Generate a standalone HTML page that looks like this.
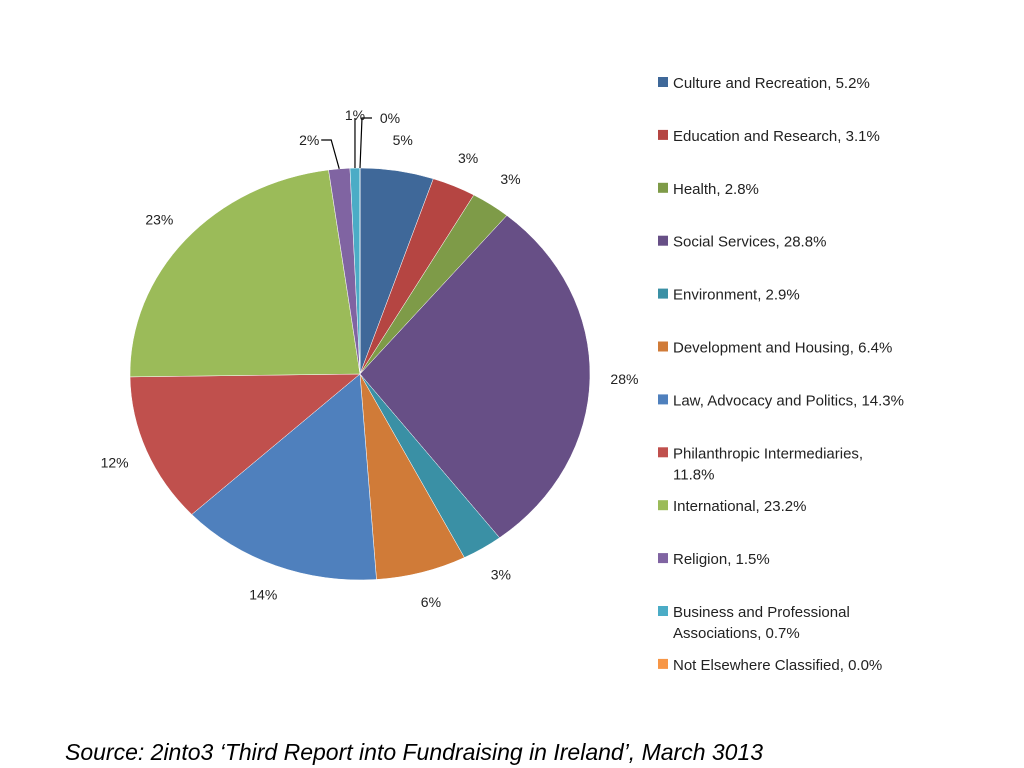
<!DOCTYPE html>
<html><head><meta charset="utf-8"><style>
body{margin:0;width:1024px;height:768px;background:#fff;overflow:hidden;font-family:"Liberation Sans",sans-serif}
svg{position:absolute;left:0;top:0}
</style></head><body>
<svg id="c" width="1024" height="768"></svg>
<script>
const categories=["Culture and Recreation","Education and Research","Health","Social Services","Environment","Development and Housing","Law, Advocacy and Politics","Philanthropic Intermediaries","International","Religion","Business and Professional Associations","Not Elsewhere Classified"];
const values=[5.2,3.1,2.8,28.8,2.9,6.4,14.3,11.8,23.2,1.5,0.7,0.0];
const pctLabels=["5%","3%","3%","28%","3%","6%","14%","12%","23%","2%","1%","0%"];
const legendText=[["Culture and Recreation, 5.2%"],["Education and Research, 3.1%"],["Health, 2.8%"],["Social Services, 28.8%"],["Environment, 2.9%"],["Development and Housing, 6.4%"],["Law, Advocacy and Politics, 14.3%"],["Philanthropic Intermediaries,","11.8%"],["International, 23.2%"],["Religion, 1.5%"],["Business and Professional","Associations, 0.7%"],["Not Elsewhere Classified, 0.0%"]];
const colors=["#3F6899","#B54542","#7E9B48","#674F86","#3A90A5","#D07B38","#4F80BD","#C0504D","#9BBB59","#8064A2","#4BACC6","#F79646"];
const NS="http://www.w3.org/2000/svg",svg=document.getElementById('c');
function mk(t,a,p){const e=document.createElementNS(NS,t);for(const k in a)e.setAttribute(k,a[k]);(p||svg).appendChild(e);return e;}
const cx=360,cy=374,rx=230,ry=206;
const total=values.reduce((a,b)=>a+b,0);
function pt(f,k){const a=f*2*Math.PI;return [cx+Math.sin(a)*rx*k,cy-Math.cos(a)*ry*k];}
let cum=0;
values.forEach((v,i)=>{
 const f0=cum/total,f1=(cum+v)/total;cum+=v;
 const [x0,y0]=pt(f0,1),[x1,y1]=pt(f1,1);
 const large=(f1-f0)>0.5?1:0;
 const p=mk('path',{d:`M${cx},${cy}L${x0},${y0}A${rx},${ry} 0 ${large} 1 ${x1},${y1}Z`,fill:colors[i],stroke:'#fff','stroke-width':0.5});
 
 
 const fm=(f0+f1)/2;
 let lx,ly,anchor='middle';
 if(v/total<0.025 && fm>0.9){
   // leader line for tiny slices near top
   const [ex,ey]=pt(fm,1);
   const j=i-9;
   const tops=[[ex-8,140],[ex,118],[ex+2,118]];
   const tx=tops[j][0],ty=tops[j][1];
   const ln=mk('polyline',{points:`${ex},${ey} ${tx},${ty} ${j==0?tx-10:j==2?tx+10:tx},${ty}`,fill:'none',stroke:'#000','stroke-width':1.2});
   
   
   lx=j==0?tx-22:j==2?tx+28:tx;ly=j==1?ty+2:ty+5;
 } else {
   [lx,ly]=pt(fm,1.15);ly+=5;
 }
 const t=mk('text',{x:lx,y:ly,'text-anchor':anchor,'font-size':14,fill:'#222'});
 t.textContent=pctLabels[i];
 
 
});
legendText.forEach((lines,i)=>{
 const y=83+i*52.9;
 const r=mk('rect',{x:658,y:y-6,width:10,height:10,fill:colors[i]});
 
 
 lines.forEach((s,k)=>{
  const t=mk('text',{x:673,y:y+5+k*21,'font-size':15,fill:'#222'});
  t.textContent=s;
  
  
 });
});
const src=mk('text',{x:65,y:760,'font-size':23,'font-style':'italic',fill:'#000'});
src.textContent="Source: 2into3 \u2018Third Report into Fundraising in Ireland\u2019, March 3013";


</script>
</body></html>
